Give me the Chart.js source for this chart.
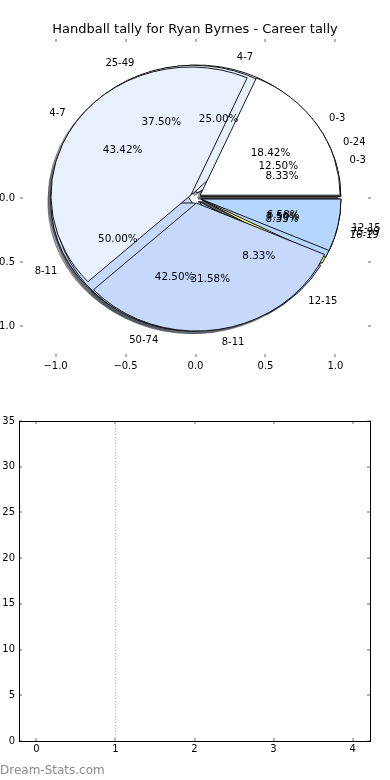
<!DOCTYPE html>
<html>
<head>
<meta charset="utf-8">
<script src="https://cdn.jsdelivr.net/npm/chart.js@4.4.0/dist/chart.umd.min.js"></script>
<style>
  html, body { margin: 0; padding: 0; background: #fff; }
  #wrap { position: relative; width: 390px; height: 780px; overflow: hidden; }
  canvas { position: absolute; left: 0; }
  #axesCanvas, #pieCanvas { top: 0; }
  #emptyCanvas { top: 390px; }
  #mark { position: absolute; left: 0; top: 763px; font: 12px "DejaVu Sans", sans-serif; line-height: 14px; color: #8a8a8a; }
</style>
</head>
<body>
<div id="wrap">
  <canvas id="axesCanvas" width="390" height="390"></canvas>
  <canvas id="pieCanvas" width="390" height="390"></canvas>
  <canvas id="emptyCanvas" width="390" height="390"></canvas>
  <div id="mark">Dream-Stats.com</div>
</div>
<script>
// pies, listed bottom to top (drawing order)
const careerLabels = ['0-3', '4-7', '8-11', '12-15', '16-19'];
const careerCounts = [1, 3, 6, 1, 1];
const scoreLabels = ['0-24', '25-49', '50-74', '75-99'];
const scoreCounts = [5, 15, 17, 3];
const seasonLabels = ['0-3', '4-7', '8-11', '12-15'];
const seasonCounts = [14, 33, 24, 5];

const pieXTicks = [-1, -0.5, 0, 0.5, 1];
const pieYTicks = [0, -0.5, -1];

// lower panel (empty except the dotted marker)
const lowXTicks = [0, 1, 2, 3, 4];
const lowYTicks = [0, 5, 10, 15, 20, 25, 30, 35];
const markerX = [1, 1];
const markerY = [0, 35];

const sliceColors = ['#ffffff', '#e9f0fe', '#c6d9fd', '#b5d6ff', '#ffff80'];
const TICK_GRAY = '#b4b4b4';
const EXPLODE = 0.04, LABEL_R = 1.1, PCT_R = 0.6, SHADOW = 0.02;

Chart.defaults.font.family = '"DejaVu Sans", sans-serif';
Chart.defaults.font.size = 10;
Chart.defaults.color = '#000';

function minusFmt(v) {
    return (v < 0 ? '\u2212' : '') + Math.abs(v).toFixed(1);
}

function axisCfg(pos, min, max, vals, fmt, thick, pad, frame) {
    return {
        type: 'linear', position: pos, min: min, max: max, display: true,
        afterBuildTicks: s => { s.ticks = vals.map(v => ({ value: v })); },
        afterFit: s => { if (s.isHorizontal()) s.height = thick; else s.width = thick; },
        grid: { display: true, drawOnChartArea: false, drawTicks: true, tickLength: -3, color: TICK_GRAY, lineWidth: 2 },
        border: { display: frame, color: '#000', width: 1 },
        ticks: { display: !!fmt, padding: pad, autoSkip: false, maxRotation: 0, callback: fmt ? (v => fmt(v)) : undefined }
    };
}

// axes behind the pies
var axesChart = new Chart(document.getElementById('axesCanvas'), {
    type: 'scatter',
    data: { datasets: [] },
    options: {
        responsive: false,
        animation: false,
        events: [],
        layout: { padding: 0 },
        plugins: {
            legend: { display: false },
            tooltip: { enabled: false },
            title: {
                display: true,
                text: 'Handball tally for Ryan Byrnes - Career tally',
                font: { size: 13, weight: 'normal' },
                color: '#000',
                padding: { top: 22, bottom: 1.4 }
            }
        },
        scales: {
            x: axisCfg('bottom', -1.254, 1.254, pieXTicks, minusFmt, 33, 6, false),
            x2: axisCfg('top', -1.254, 1.254, pieXTicks, null, 0, 0, false),
            y: axisCfg('left', -1.242, 1.242, pieYTicks, minusFmt, 20, 8, false),
            y2: axisCfg('right', -1.242, 1.242, pieYTicks, null, 19, 0, false)
        }
    }
});

function shadowOf(hex) {
    const n = parseInt(hex.slice(1), 16);
    const r = (n >> 16) & 255, g = (n >> 8) & 255, b = n & 255;
    return 'rgba(' + Math.round(r * 0.3) + ',' + Math.round(g * 0.3) + ',' + Math.round(b * 0.3) + ',0.5)';
}

// draws the arcs the pie controller laid out, matplotlib style (exploded, shadowed, stretched to the axes)
const mplPie = {
    id: 'mplPie',
    beforeDatasetsDraw(chart) {
        const ctx = chart.ctx;
        const sx = axesChart.scales.x, sy = axesChart.scales.y;
        const cx = sx.getPixelForValue(0), cy = sy.getPixelForValue(0);
        const rx = sx.getPixelForValue(1) - cx, ry = cy - sy.getPixelForValue(1);
        const metas = chart.data.datasets.map((ds, i) => chart.getDatasetMeta(i));

        function wedge(arc, dx, dy) {
            const mid = (arc.startAngle + arc.endAngle) / 2;
            const x0 = cx + dx + EXPLODE * Math.cos(mid) * rx;
            const y0 = cy + dy - EXPLODE * Math.sin(mid) * ry;
            ctx.beginPath();
            ctx.moveTo(x0, y0);
            ctx.ellipse(x0, y0, rx, ry, 0, -arc.startAngle, -arc.endAngle, true);
            ctx.closePath();
        }

        ctx.save();
        //shadows first, under every wedge
        ctx.lineWidth = 1;
        metas.forEach(meta => meta.data.forEach(arc => {
            const c = shadowOf(arc.options.backgroundColor);
            wedge(arc, -SHADOW * rx, SHADOW * ry);
            ctx.fillStyle = c;
            ctx.strokeStyle = c;
            ctx.fill();
            ctx.stroke();
        }));
        ctx.lineWidth = 0.9;
        ctx.strokeStyle = '#000';
        metas.forEach(meta => meta.data.forEach(arc => {
            wedge(arc, 0, 0);
            ctx.fillStyle = arc.options.backgroundColor;
            ctx.fill();
            ctx.stroke();
        }));

        //labels and percentages on top
        ctx.fillStyle = '#000';
        ctx.textBaseline = 'middle';
        metas.forEach((meta, i) => {
            const ds = chart.data.datasets[i];
            const total = ds.data.reduce((a, b) => a + b, 0);
            meta.data.forEach((arc, j) => {
                const mid = (arc.startAngle + arc.endAngle) / 2;
                const c = Math.cos(mid), s = Math.sin(mid);
                const lx = (EXPLODE + LABEL_R) * c, ly = (EXPLODE + LABEL_R) * s;
                ctx.font = '10px "DejaVu Sans"';
                ctx.textAlign = lx > 0 ? 'left' : 'right';
                ctx.fillText(ds.sliceLabels[j], cx + lx * rx, cy - ly * ry);
                ctx.font = '10.4px "DejaVu Sans"';
                ctx.textAlign = 'center';
                const pct = 100 * ds.data[j] / total;
                ctx.fillText(pct.toFixed(2) + '%', cx + (EXPLODE + PCT_R) * c * rx, cy - (EXPLODE + PCT_R) * s * ry);
            });
        });
        ctx.restore();
        return false;
    }
};

var pieChart = new Chart(document.getElementById('pieCanvas'), {
    type: 'pie',
    data: {
        labels: careerLabels,
        datasets: [
            { data: careerCounts, sliceLabels: careerLabels, backgroundColor: sliceColors },
            { data: scoreCounts, sliceLabels: scoreLabels, backgroundColor: sliceColors },
            { data: seasonCounts, sliceLabels: seasonLabels, backgroundColor: sliceColors }
        ]
    },
    options: {
        responsive: false,
        animation: false,
        events: [],
        rotation: 90,
        plugins: { legend: { display: false }, tooltip: { enabled: false } }
    },
    plugins: [mplPie]
});

function intFmt(v) { return String(v); }

var lowChart = new Chart(document.getElementById('emptyCanvas'), {
    type: 'scatter',
    data: {
        datasets: [{
            data: markerX.map((x, i) => ({ x: x, y: markerY[i] })),
            showLine: true,
            borderColor: '#b8b8b8',
            borderWidth: 1,
            borderDash: [1, 2],
            pointRadius: 0
        }]
    },
    options: {
        responsive: false,
        animation: false,
        events: [],
        layout: { padding: 0 },
        plugins: { legend: { display: false }, tooltip: { enabled: false } },
        scales: {
            x: axisCfg('bottom', -0.22, 4.22, lowXTicks, intFmt, 39, 5.5, true),
            x2: axisCfg('top', -0.22, 4.22, lowXTicks, null, 31, 0, true),
            y: axisCfg('left', 0, 35, lowYTicks, intFmt, 19, 7, true),
            y2: axisCfg('right', 0, 35, lowYTicks, null, 20, 0, true)
        }
    }
});
</script>
</body>
</html>
